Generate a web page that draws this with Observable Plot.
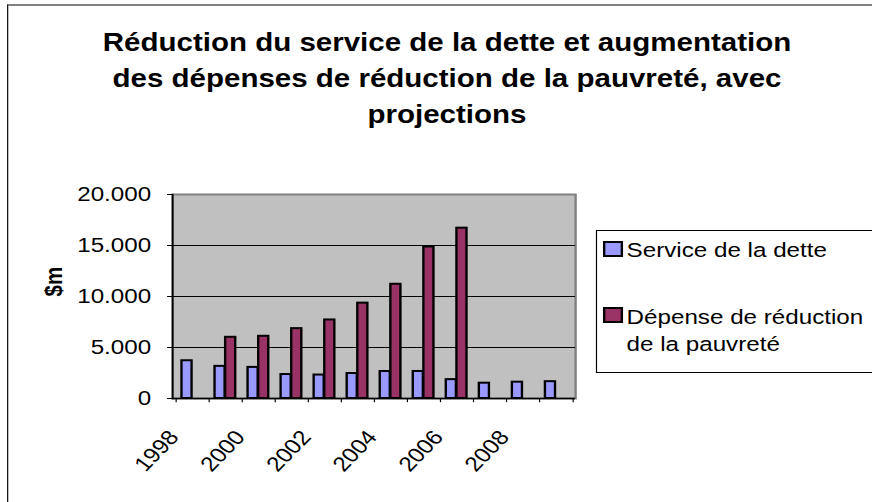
<!DOCTYPE html>
<html>
<head>
<meta charset="utf-8">
<script src="https://cdn.jsdelivr.net/npm/d3@7"></script>
<script src="https://cdn.jsdelivr.net/npm/@observablehq/plot@0.6"></script>
<style>
  html, body { margin: 0; padding: 0; background: #fff; overflow: hidden; }
  #wrap { position: relative; width: 739px; height: 502px; transform: scaleX(1.18); transform-origin: 0 0; font-family: "Liberation Sans", Arial, sans-serif; color: #000; }
  #border { position: absolute; left: 5.9px; top: 4px; width: 900px; height: 600px; border-left: 1.7px solid #000; border-top: 2px solid #808080; }
  #title { position: absolute; left: 0; width: 757.6px; top: 23.5px; text-align: center; font-weight: bold; font-size: 25px; line-height: 36px; }
  #chart { position: absolute; left: 0; top: 0; }
  #legend { position: absolute; left: 505px; top: 230px; width: 400px; height: 141px; border: 1px solid #000; }
  .sq { position: absolute; left: 511px; width: 17px; height: 16px; box-sizing: border-box; border: 2px solid #000; }
  .lt { position: absolute; left: 531px; font-size: 20.5px; line-height: 27px; white-space: nowrap; }
</style>
</head>
<body>
<div id="wrap">
  <div id="border"></div>
  <div id="title">Réduction du service de la dette et augmentation<br>des dépenses de réduction de la pauvreté, avec<br>projections</div>
  <div id="chart"></div>
  <div id="legend"></div>
  <div class="sq" id="sq1" style="top:240.7px"></div>
  <div class="lt" id="lt1" style="top:235.7px"></div>
  <div class="sq" id="sq2" style="top:307px"></div>
  <div class="lt" id="lt2" style="top:302.7px"></div>
</div>
<script>
// ---- data ----
const years = ["1998","1999","2000","2001","2002","2003","2004","2005","2006","2007","2008","2009"];
const serviceDette = [3700, 3150, 3050, 2350, 2300, 2450, 2650, 2650, 1850, 1500, 1600, 1650];
const depenseReduction = [null, 6000, 6100, 6850, 7700, 9350, 11200, 14850, 16700, null, null, null];
const yTicks = [0, 5000, 10000, 15000, 20000];
const gridTicks = [5000, 10000, 15000];
const xTickLabels = ["1998", "2000", "2002", "2004", "2006", "2008"];
const seriesNames = ["Service de la dette", "Dépense de réduction\nde la pauvreté"];
const seriesColors = ["#9999FF", "#993366"];
const yLabel = "$m";

// ---- tables ----
const debt = years.map((year, i) => ({year, value: serviceDette[i]}));
const pov = years.map((year, i) => ({year, value: depenseReduction[i]})).filter(d => d.value != null);

const W = 739, H = 502;
const mL = 145.8, mR = W - 487.3, mT = 194, mB = 104;
const bw = (W - mL - mR) / years.length;

const fmt = d3.formatLocale({decimal: ",", thousands: ".", grouping: [3], currency: ["$", ""]}).format(",");

const chart = Plot.plot({
  width: W, height: H,
  marginLeft: mL, marginRight: mR, marginTop: mT, marginBottom: mB,
  x: {domain: years, padding: 0},
  y: {domain: [0, 20000]},
  style: {fontFamily: "'Liberation Sans', Arial, sans-serif", fontSize: "20.5px", color: "#000", background: "transparent", overflow: "visible"},
  marks: [
    Plot.frame({fill: "#C0C0C0", stroke: "#808080", strokeWidth: 2}),
    Plot.gridY(gridTicks, {stroke: "#000", strokeOpacity: 1, strokeWidth: 1}),
    Plot.barY(debt, {x: "year", y: "value", fill: seriesColors[0], stroke: "#000", strokeWidth: 2, insetLeft: 4.8, insetRight: bw - 13.8}),
    Plot.barY(pov, {x: "year", y: "value", fill: seriesColors[1], stroke: "#000", strokeWidth: 2, insetLeft: 13.8, insetRight: bw - 22.8}),
    Plot.ruleY([0], {stroke: "#000", strokeWidth: 1.5}),
    Plot.frame({anchor: "left", stroke: "#000", strokeWidth: 1.5}),
    Plot.axisY(yTicks, {tickSize: 4.2, tickPadding: 14, tickFormat: fmt, label: null, stroke: "#000", strokeOpacity: 1}),
    Plot.axisX(years, {tickSize: 4.2, tickFormat: () => "", dx: -bw / 2, label: null, stroke: "#000", strokeOpacity: 1}),
    Plot.axisX([years[years.length - 1]], {tickSize: 4.2, tickFormat: () => "", dx: bw / 2, label: null, stroke: "#000", strokeOpacity: 1}),
    Plot.axisX(xTickLabels, {tickSize: 0, tickRotate: -50, tickPadding: 18, dx: -16, dy: 17, label: null}),
    Plot.text([yLabel], {frameAnchor: "left", dx: -100, rotate: -90, fontWeight: "bold", fontSize: 20.5, fill: "#000"})
  ]
});
document.getElementById("chart").appendChild(chart);

document.getElementById("sq1").style.background = seriesColors[0];
document.getElementById("sq2").style.background = seriesColors[1];
document.getElementById("lt1").textContent = seriesNames[0];
document.getElementById("lt2").innerHTML = seriesNames[1].split("\n").join("<br>");
</script>
</body>
</html>
